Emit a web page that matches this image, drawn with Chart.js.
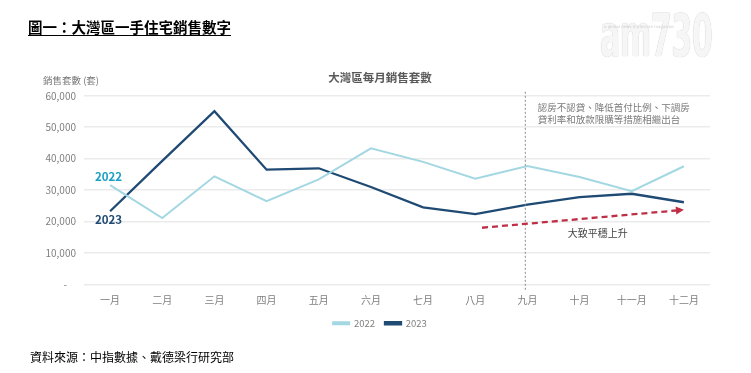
<!DOCTYPE html>
<html>
<head>
<meta charset="utf-8">
<script src="https://cdn.jsdelivr.net/npm/chart.js@4/dist/chart.umd.min.js"></script>
<style>
  html, body { margin: 0; padding: 0; background: #fff; }
  #wrap { position: relative; width: 751px; height: 373px; overflow: hidden; }
  #c { position: absolute; left: 0; top: 0; }
  .txt { position: absolute; font-family: 'Noto Sans CJK TC', sans-serif; white-space: nowrap; }
  #hdr { left: 28px; top: 17px; font-size: 14.5px; font-weight: 700; color: #000; text-decoration: underline; text-underline-offset: 2px; line-height: 20px; }
  #src { left: 30px; top: 349px; font-size: 12px; color: #000; line-height: 16px; }
  #logo { left: 600px; top: 4px; font-family: 'DejaVu Sans Condensed', 'DejaVu Sans', sans-serif; font-weight: 700; font-size: 58px; line-height: 64px; color: #f6f6f6; transform: scaleX(0.58); transform-origin: left top; letter-spacing: -1px; text-shadow: 0 0 1px #cfcfcf, 0 0 1px #cfcfcf; }
  #logosub { left: 604px; top: 24px; font-family: 'DejaVu Sans', sans-serif; font-size: 4px; color: #cfcfcf; line-height: 5px; }
</style>
</head>
<body>
<div id="wrap">
  <canvas id="c" width="751" height="373"></canvas>
  <div class="txt" id="hdr">圖一：大灣區一手住宅銷售數字</div>
  <div class="txt" id="logo">am730</div>
  <div class="txt" id="logosub">a global news &amp; lifestyle magazine</div>
  <div class="txt" id="src">資料來源：中指數據、戴德梁行研究部</div>
</div>
<script>
const months = ['一月','二月','三月','四月','五月','六月','七月','八月','九月','十月','十一月','十二月'];
const sales2022 = [31600, 21150, 34400, 26500, 33400, 43300, 39000, 33650, 37700, 34200, 29700, 37600];
const sales2023 = [23300, 39300, 55100, 36500, 36950, 31000, 24550, 22400, 25400, 27750, 28850, 26150];
const yTicks = [0, 10000, 20000, 30000, 40000, 50000, 60000];
const chartTitle = '大灣區每月銷售套數';
const yAxisTitle = '銷售套數 (套)';
const policyNote = ['認房不認貸、降低首付比例、下調房', '貸利率和放款限購等措施相繼出台'];
const policyIndex = [7.95];
const trendNote = '大致平穩上升';
const trendArrow = { from: [7.13, 18050], to: [11.0, 23750] };

const FONT = "'Noto Sans CJK TC', sans-serif";
const C2022 = '#a3d7e2';
const C2023 = '#1f4a74';

const overlay = {
  id: 'overlay',
  afterDatasetsDraw(chart) {
    const ctx = chart.ctx;
    const x = chart.scales.x, y = chart.scales.y;
    const area = chart.chartArea;
    ctx.save();
    // y axis title
    ctx.font = '9.5px ' + FONT;
    ctx.fillStyle = '#777';
    ctx.textBaseline = 'middle';
    ctx.textAlign = 'left';
    ctx.fillText(yAxisTitle, 43, area.top - 15);

    // vertical policy line
    const vx = x.getPixelForValue(policyIndex[0]);
    ctx.strokeStyle = '#8a8a8a';
    ctx.lineWidth = 1;
    ctx.setLineDash([2, 2]);
    ctx.beginPath();
    ctx.moveTo(vx + 0.5, area.top - 4);
    ctx.lineTo(vx + 0.5, area.bottom + 7);
    ctx.stroke();
    ctx.setLineDash([]);

    // policy note
    ctx.font = '9.5px ' + FONT;
    ctx.fillStyle = '#7a7a7a';
    ctx.textAlign = 'left';
    policyNote.forEach((t, i) => ctx.fillText(t, vx + 13, area.top + 12 + i * 11.5));

    // trend arrow
    const x0 = x.getPixelForValue(trendArrow.from[0]), y0 = y.getPixelForValue(trendArrow.from[1]);
    const x1 = x.getPixelForValue(trendArrow.to[0]), y1 = y.getPixelForValue(trendArrow.to[1]);
    const ang = Math.atan2(y1 - y0, x1 - x0);
    const hl = 8;
    const bx = x1 - hl * Math.cos(ang), by = y1 - hl * Math.sin(ang);
    ctx.strokeStyle = '#be2f45';
    ctx.fillStyle = '#be2f45';
    ctx.lineWidth = 2.3;
    ctx.setLineDash([6, 4]);
    ctx.beginPath();
    ctx.moveTo(x0, y0);
    ctx.lineTo(bx, by);
    ctx.stroke();
    ctx.setLineDash([]);
    ctx.beginPath();
    ctx.moveTo(x1, y1);
    ctx.lineTo(bx + 4 * Math.sin(ang), by - 4 * Math.cos(ang));
    ctx.lineTo(bx - 4 * Math.sin(ang), by + 4 * Math.cos(ang));
    ctx.closePath();
    ctx.fill();

    // trend note
    ctx.font = '10px ' + FONT;
    ctx.fillStyle = '#444';
    ctx.textAlign = 'center';
    ctx.fillText(trendNote, x.getPixelForValue(9.35), y.getPixelForValue(trendArrow.from[1]) + 5);

    // series labels
    ctx.font = 'bold 11.5px ' + FONT;
    const m0 = chart.getDatasetMeta(0).data[0];
    const m1 = chart.getDatasetMeta(1).data[0];
    ctx.fillStyle = '#1aa0c4';
    ctx.fillText(chart.data.datasets[0].label, m0.x - 1.5, m0.y - 8);
    ctx.fillStyle = C2023;
    ctx.fillText(chart.data.datasets[1].label, m1.x - 1.5, m1.y + 8);
    ctx.restore();
  }
};

new Chart(document.getElementById('c'), {
  type: 'line',
  data: {
    labels: months,
    datasets: [
      { label: '2022', data: sales2022, borderColor: C2022, backgroundColor: C2022, borderWidth: 2, pointRadius: 0, tension: 0 },
      { label: '2023', data: sales2023, borderColor: C2023, backgroundColor: C2023, borderWidth: 2.3, pointRadius: 0, tension: 0 }
    ]
  },
  options: {
    responsive: false,
    animation: false,
    layout: { padding: { left: 30, right: 21, top: 60, bottom: 35 } },
    plugins: {
      tooltip: { enabled: false },
      title: {
        display: true, text: chartTitle, color: '#595959',
        font: { family: FONT, size: 11.5, weight: 'bold' },
        padding: { top: 11, bottom: 11 }
      },
      legend: {
        position: 'bottom',
        labels: {
          boxWidth: 16, boxHeight: 2, padding: 10, color: '#7f7f7f',
          font: { family: FONT, size: 9.5 }
        }
      }
    },
    scales: {
      x: {
        offset: true,
        afterFit(s) { s.height = 24; },
        grid: { display: false, drawTicks: false },
        border: { display: false },
        ticks: { color: '#7f7f7f', font: { family: FONT, size: 10 }, padding: 10, maxRotation: 0, autoSkip: false }
      },
      y: {
        min: 0, max: 60000,
        afterFit(s) { s.width = 54; },
        afterBuildTicks(s) { s.ticks = yTicks.map(v => ({ value: v })); },
        grid: { color: '#ebebeb', lineWidth: 1.5, drawTicks: false },
        border: { display: false },
        ticks: {
          color: '#7f7f7f', font: { family: FONT, size: 10 }, padding: 8,
          callback: v => v === 0 ? '-    ' : v.toLocaleString('en-US')
        }
      },
      y2: {
        position: 'right', min: 0, max: 60000,
        afterFit(s) { s.width = 20; },
        grid: { display: false, drawTicks: false },
        border: { display: false },
        ticks: { display: false }
      }
    }
  },
  plugins: [overlay]
});
</script>
</body>
</html>
